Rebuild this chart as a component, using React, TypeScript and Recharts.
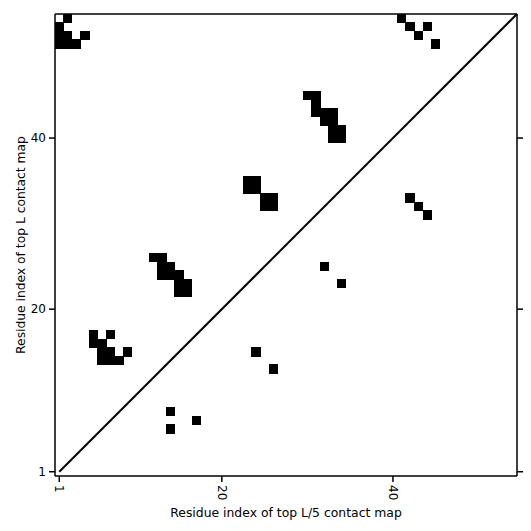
import {
  ScatterChart,
  Scatter,
  XAxis,
  YAxis,
  ReferenceLine,
} from 'recharts'

// residue pairs [x, y]
const topLx = [2, 1, 1, 2, 4, 1, 2, 3, 41, 42, 44, 43, 45, 30, 31, 31, 31, 32, 33, 32, 33, 33, 34, 33, 34, 23, 24, 23, 24, 25, 26, 25, 26, 12, 13, 13, 14, 13, 14, 15, 15, 16, 15, 16, 5, 7, 5, 6, 6, 7, 9, 6, 7, 8]
const topLy = [54, 53, 52, 52, 52, 51, 51, 51, 54, 53, 53, 52, 51, 45, 45, 44, 43, 43, 43, 42, 42, 41, 41, 40, 40, 35, 35, 34, 34, 33, 33, 32, 32, 26, 26, 25, 25, 24, 24, 24, 23, 23, 22, 22, 17, 17, 16, 16, 15, 15, 15, 14, 14, 14]

const topL5x = [42, 43, 44, 32, 34, 24, 26, 14, 17, 14]
const topL5y = [33, 32, 31, 25, 23, 15, 13, 8, 7, 6]

const ticks = [1, 20, 40]
const domain: [number, number] = [0.5, 54.5]

const topL = topLx.map((x, i) => ({ x, y: topLy[i] }))
const topL5 = topL5x.map((x, i) => ({ x, y: topL5y[i] }))

const W = 531
const H = 531
const LEFT = 55
const RIGHT = 14
const TOP = 14
const BOTTOM = 55
const cellW = (W - LEFT - RIGHT) / (domain[1] - domain[0])
const cellH = (H - TOP - BOTTOM) / (domain[1] - domain[0])

const font = 'DejaVu Sans'

function Cell(props: any) {
  const { cx, cy } = props
  return (
    <rect
      x={cx - cellW / 2 - 0.3}
      y={cy - cellH / 2 - 0.3}
      width={cellW + 0.6}
      height={cellH + 0.6}
      fill="#000"
      stroke="none"
      shapeRendering="crispEdges"
    />
  )
}

function XTick({ x, y, payload }: any) {
  return (
    <text
      transform={`translate(${x},${y}) rotate(90)`}
      textAnchor="start"
      dominantBaseline="central"
      fontSize={12}
      fontFamily={font}
      fill="#000"
    >
      {payload.value}
    </text>
  )
}

function Blank() {
  return <g />
}

export default function App() {
  return (
    <div style={{ position: 'absolute', left: 0, top: 0 }}>
      <ScatterChart width={W} height={H} margin={{ top: 0, right: 0, bottom: 0, left: 0 }}>
        <XAxis
          type="number"
          dataKey="x"
          domain={domain}
          ticks={ticks}
          height={BOTTOM}
          allowDataOverflow
          stroke="#000"
          strokeWidth={1.5}
          tick={<XTick />}
          tickSize={6}
          tickMargin={3}
          label={{
            value: 'Residue index of top L/5 contact map',
            position: 'insideBottom',
            offset: 14,
            fontSize: 12.4,
            fontFamily: font,
            fill: '#000',
          }}
        />
        <XAxis
          xAxisId="top"
          orientation="top"
          type="number"
          domain={domain}
          ticks={ticks}
          height={TOP}
          allowDataOverflow
          stroke="#000"
          strokeWidth={1.5}
          tick={<Blank />}
          tickSize={6}
        />
        <YAxis
          type="number"
          dataKey="y"
          domain={domain}
          ticks={ticks}
          width={LEFT}
          allowDataOverflow
          stroke="#000"
          strokeWidth={1.5}
          tick={{ fontSize: 12, fontFamily: font, fill: '#000' }}
          tickSize={6}
          tickMargin={3}
          label={{
            content: ({ viewBox }: any) => (
              <text
                transform={`translate(21,${viewBox.y + viewBox.height / 2}) rotate(-90)`}
                textAnchor="middle"
                dominantBaseline="central"
                fontSize={12.3}
                fontFamily={font}
                fill="#000"
              >
                Residue index of top L contact map
              </text>
            ),
          }}
        />
        <YAxis
          yAxisId="right"
          orientation="right"
          type="number"
          domain={domain}
          ticks={ticks}
          width={RIGHT}
          allowDataOverflow
          stroke="#000"
          strokeWidth={1.5}
          tick={<Blank />}
          tickSize={6}
        />
        <ReferenceLine
          segment={[
            { x: 1, y: 1 },
            { x: 54.5, y: 54.5 },
          ]}
          stroke="#000"
          strokeWidth={2}
          ifOverflow="visible"
        />
        <Scatter data={topL} shape={<Cell />} isAnimationActive={false} />
        <Scatter data={topL5} shape={<Cell />} isAnimationActive={false} />
      </ScatterChart>
    </div>
  )
}
